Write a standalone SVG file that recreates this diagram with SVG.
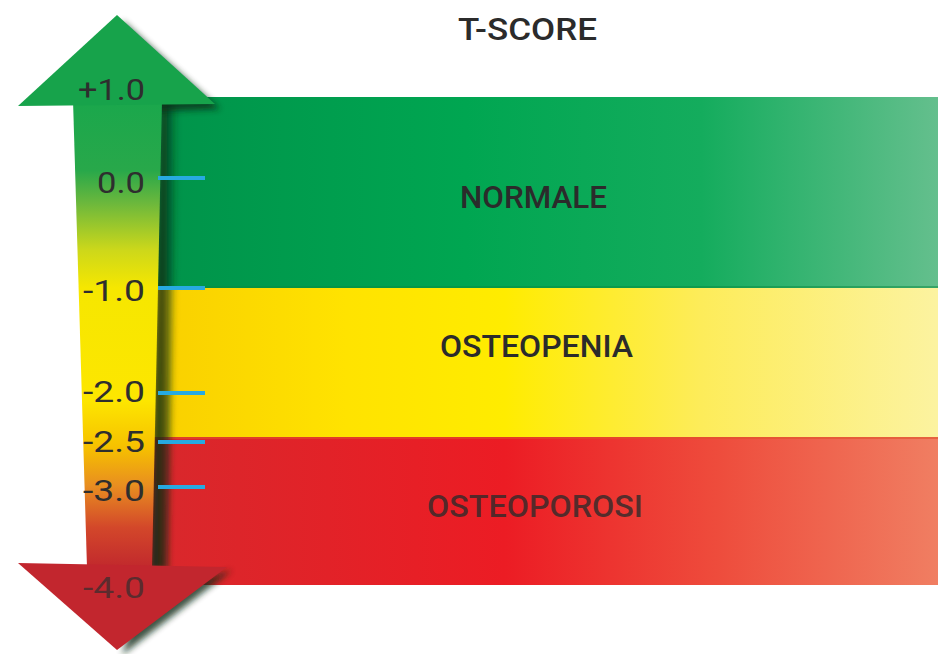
<svg xmlns="http://www.w3.org/2000/svg" width="938" height="654" viewBox="0 0 938 654">
<defs>
<linearGradient id="gGreen" gradientUnits="userSpaceOnUse" x1="150" y1="0" x2="938" y2="0">
<stop offset="0" stop-color="#00934a"/><stop offset="0.4" stop-color="#00a651"/><stop offset="0.7" stop-color="#14ac5d"/><stop offset="1" stop-color="#64bf8d"/>
</linearGradient>
<linearGradient id="gYellow" gradientUnits="userSpaceOnUse" x1="150" y1="0" x2="938" y2="0">
<stop offset="0" stop-color="#f9cf00"/><stop offset="0.25" stop-color="#ffe300"/><stop offset="0.45" stop-color="#ffec00"/><stop offset="0.7" stop-color="#fdec5a"/><stop offset="1" stop-color="#fcf3a0"/>
</linearGradient>
<linearGradient id="gRed" gradientUnits="userSpaceOnUse" x1="150" y1="0" x2="938" y2="0">
<stop offset="0" stop-color="#d8282c"/><stop offset="0.45" stop-color="#ec1c24"/><stop offset="0.72" stop-color="#ee4c3c"/><stop offset="1" stop-color="#f07e62"/>
</linearGradient>
<linearGradient id="gShaft" gradientUnits="userSpaceOnUse" x1="0" y1="100" x2="0" y2="570">
<stop offset="0" stop-color="#1aa74c"/><stop offset="0.15" stop-color="#28a84a"/><stop offset="0.22" stop-color="#6cb83c"/><stop offset="0.32" stop-color="#cdd81a"/><stop offset="0.4" stop-color="#f6e700"/><stop offset="0.64" stop-color="#fde600"/><stop offset="0.74" stop-color="#f6c000"/><stop offset="0.82" stop-color="#e88e20"/><stop offset="0.91" stop-color="#d3472a"/><stop offset="1" stop-color="#c0272d"/>
</linearGradient>
<linearGradient id="gShadow" x1="0" y1="0" x2="1" y2="0">
<stop offset="0" stop-color="#0b2a14" stop-opacity="1"/><stop offset="0.55" stop-color="#0b2a14" stop-opacity="0.7"/><stop offset="1" stop-color="#0b2a14" stop-opacity="0"/>
</linearGradient>
<filter id="blur" x="-20%" y="-20%" width="140%" height="140%"><feGaussianBlur stdDeviation="3"/></filter>
</defs>
<style>
.tick{stroke:#27aae1;stroke-width:4;}
.num{font-family:Roboto,"Liberation Sans",sans-serif;font-weight:400;font-size:30px;fill:#2e2e2e;text-anchor:end;}
.lbl{font-family:Roboto,"Liberation Sans",sans-serif;font-weight:500;font-size:32px;fill:#2b2b2b;}
</style>

<g id="band-normale">
<rect x="150" y="97" width="788" height="191" fill="url(#gGreen)"/>
<rect x="150" y="286" width="788" height="2" fill="#0a8a40" opacity="0.5"/>
<text class="lbl" x="460" y="208" textLength="147" lengthAdjust="spacingAndGlyphs">NORMALE</text>
</g>
<g id="band-osteopenia">
<rect x="150" y="288" width="788" height="149" fill="url(#gYellow)"/>
<text class="lbl" x="440" y="357" textLength="193" lengthAdjust="spacingAndGlyphs">OSTEOPENIA</text>
</g>
<g id="band-osteoporosi">
<rect x="150" y="437" width="788" height="148" fill="url(#gRed)"/>
<rect x="150" y="437" width="788" height="2" fill="#e0502a" opacity="0.6"/>
<text class="lbl" x="427" y="517" textLength="216" lengthAdjust="spacingAndGlyphs" fill-opacity="0.8">OSTEOPOROSI</text>
</g>

<g id="title">
<text class="lbl" x="458" y="40" textLength="139" lengthAdjust="spacingAndGlyphs" fill="#1a1a1a">T-SCORE</text>
</g>

<g id="arrow">
<polygon points="160,100 178,100 168,570 150,570" fill="url(#gShadow)" filter="url(#blur)"/>
<polygon points="122,20 220,109 140,112" fill="#0b2a14" opacity="0.75" filter="url(#blur)"/>
<polygon points="73,100 162,100 152,568 87,568" fill="url(#gShaft)"/>
<polygon points="117,15 215,104 18,106" fill="#17a34b"/>
<polygon points="232,570 122,655 140,600" fill="#0b2a14" opacity="0.8" filter="url(#blur)"/>
<polygon points="18,563 227,567 117,650" fill="#c2262e"/>
</g>

<g id="ticks">
<line class="tick" x1="158" y1="178" x2="205" y2="178"/>
<line class="tick" x1="158" y1="288" x2="205" y2="288"/>
<line class="tick" x1="158" y1="393" x2="205" y2="393"/>
<line class="tick" x1="158" y1="442" x2="205" y2="442"/>
<line class="tick" x1="158" y1="487" x2="205" y2="487"/>
</g>

<g id="scale-labels">
<text class="num" x="145" y="100" textLength="67" lengthAdjust="spacingAndGlyphs">+1.0</text>
<text class="num" x="145" y="193" textLength="48" lengthAdjust="spacingAndGlyphs">0.0</text>
<text class="num" x="145" y="301" textLength="62" lengthAdjust="spacingAndGlyphs">-1.0</text>
<text class="num" x="145" y="402" textLength="62" lengthAdjust="spacingAndGlyphs">-2.0</text>
<text class="num" x="145" y="452" textLength="62" lengthAdjust="spacingAndGlyphs">-2.5</text>
<text class="num" x="145" y="501" textLength="62" lengthAdjust="spacingAndGlyphs">-3.0</text>
<text class="num" x="145" y="598" textLength="62" lengthAdjust="spacingAndGlyphs" fill-opacity="0.7">-4.0</text>
</g>
</svg>
